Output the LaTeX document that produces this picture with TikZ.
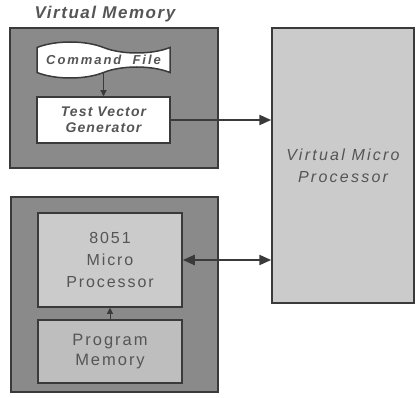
\documentclass[tikz,border=0pt]{standalone}
\usepackage{fontspec}
\setmainfont{Liberation Sans}
\newfontfamily\fvm[LetterSpace=9]{Liberation Sans}
\newfontfamily\fcmd[LetterSpace=15]{Liberation Sans}
\newfontfamily\ftvg[LetterSpace=8]{Liberation Sans}
\newfontfamily\fmp[LetterSpace=12]{Liberation Sans}
\newfontfamily\fpm[LetterSpace=12]{Liberation Sans}
\newfontfamily\fvmp[LetterSpace=14]{Liberation Sans}
\usetikzlibrary{arrows.meta,shapes.symbols}
\definecolor{outerfill}{HTML}{8A8A8A}
\definecolor{lightfill}{HTML}{CBCBCB}
\definecolor{pmfill}{HTML}{BEBEBE}
\definecolor{edge}{HTML}{3A3A3A}
\definecolor{txt}{HTML}{555555}
\tikzset{
  outerbox/.style={draw=edge, line width=1.5pt, fill=outerfill, inner sep=0pt},
  whitebox/.style={draw=edge, line width=1.5pt, fill=white, inner sep=0pt, align=center, text=txt},
  greybox/.style={draw=edge, line width=1.5pt, fill=lightfill, inner sep=0pt, align=center, text=txt},
  conn/.style={draw=edge, line width=2.2pt, -{Triangle[length=12pt,width=10pt]}},
  dconn/.style={draw=edge, line width=2.2pt, {Triangle[length=12pt,width=10pt]}-{Triangle[length=12pt,width=10pt]}},
  smallconn/.style={draw=edge, line width=1pt, -{Triangle[length=6pt,width=6pt]}}
}
\begin{document}
\begin{tikzpicture}[x=1pt,y=-1pt]
\useasboundingbox[fill=white] (0,0) rectangle (417,398);
% upper group
\node[text=txt, font=\fvm\bfseries\itshape\fontsize{17}{20}\selectfont] (vmlabel) at (105,14.5) {Virtual Memory};
\node[outerbox, minimum width=208pt, minimum height=140pt] (vm) at (114,98) {};
\node[whitebox, shape=tape, tape bend top=out and in, tape bend height=11pt, minimum width=133pt, minimum height=36pt,
      font=\fcmd\bfseries\itshape\fontsize{13}{15}\selectfont] (cmd) at (103.5,60) {Command\ \ File};
\node[whitebox, minimum width=133pt, minimum height=46pt,
      font=\ftvg\bfseries\itshape\fontsize{14}{15.5}\selectfont] (tvg) at (103.5,120) {Test Vector\\Generator};
% lower group
\node[outerbox, minimum width=207pt, minimum height=195pt] (lower) at (114.5,294.5) {};
\node[greybox, minimum width=144pt, minimum height=94pt,
      font=\fmp\fontsize{16}{22}\selectfont] (mp) at (110,260) {8051\\Micro\\Processor};
\node[greybox, fill=pmfill, minimum width=144pt, minimum height=63pt,
      font=\fpm\fontsize{16.5}{20}\selectfont] (pm) at (110,351.5) {Program\\Memory};
% virtual micro processor
\node[greybox, minimum width=142pt, minimum height=275pt,
      font=\fvmp\itshape\fontsize{16}{22}\selectfont] (vmp) at (343,165.5) {Virtual Micro\\Processor};
% connectors
\draw[smallconn] (cmd.south) -- (tvg.north);
\draw[smallconn] (pm.north) -- (mp.south);
\draw[conn] (tvg.east) -- (tvg.east -| vmp.west);
\draw[dconn] (mp.east) -- (mp.east -| vmp.west);
\end{tikzpicture}
\end{document}
